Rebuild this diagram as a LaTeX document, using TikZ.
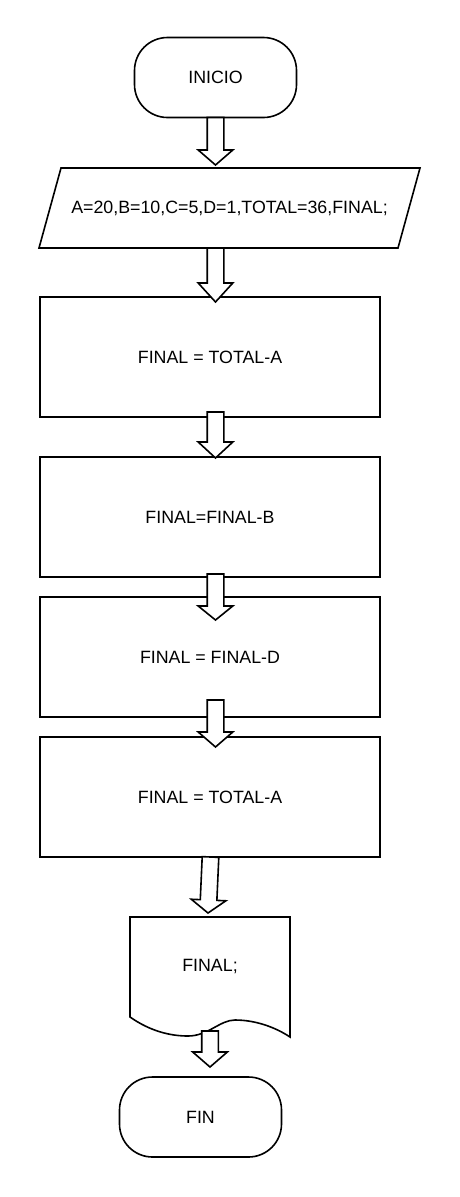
\documentclass[tikz,border=0pt]{standalone}
\usepackage{fontspec}
\setmainfont{Liberation Sans}
\usetikzlibrary{calc}
\tikzset{
  base/.style={line width=1.6pt, line join=miter},
  lbl/.style={font=\fontsize{17.8}{21}\selectfont, inner sep=0pt, outer sep=0pt},
  procbox/.style={lbl, base, draw, rectangle, minimum width=340pt, minimum height=120pt},
  termbox/.style={lbl, base, draw, rectangle, rounded corners=33pt, minimum width=162pt, minimum height=80pt},
  ghost/.style={lbl, rectangle},
  blockarrow/.style={base, draw=black, fill=white},
}
\newcommand\barrow[3]{%
  \coordinate (s) at (#1);
  \coordinate (t) at (#2);
  \coordinate (b) at ($(t)!#3!(s)$);
  \draw[blockarrow]
    ($(s)!8.3pt!90:(t)$) -- ($(b)!8.3pt!90:(t)$) -- ($(b)!17.3pt!90:(t)$) -- (t)
    -- ($(b)!17.3pt!-90:(t)$) -- ($(b)!8.3pt!-90:(t)$) -- ($(s)!8.3pt!-90:(t)$) -- cycle;
}
\begin{document}
\begin{tikzpicture}[x=1pt, y=-1pt]
\fill[white] (0,0) rectangle (460,1197);
\useasboundingbox (0,0) rectangle (460,1197);

% nodes
\node[termbox] (inicio) at (215.5,77.5) {INICIO};
\node[ghost, minimum width=359pt, minimum height=80pt] (datos) at (229.5,208) {A=20,B=10,C=5,D=1,TOTAL=36,FINAL;};
\draw[base] ([xshift=11pt]datos.north west) -- ([xshift=11pt]datos.north east)
  -- ([xshift=-11pt]datos.south east) -- ([xshift=-11pt]datos.south west) -- cycle;
\node[procbox] (p1) at (210,357) {FINAL = TOTAL-A};
\node[procbox] (p2) at (210,517) {FINAL=FINAL-B};
\node[procbox] (p3) at (210,657) {FINAL = FINAL-D};
\node[procbox] (p4) at (210,797) {FINAL = TOTAL-A};
\node[ghost, minimum width=160pt, minimum height=100pt] (doc) at (210,967) {FINAL;};
\draw[base] (doc.south west) -- (doc.north west) -- (doc.north east) -- ([yshift=-20pt]doc.south east)
  .. controls +(-15,-10) and +(20,0) .. ($(doc.south west)+(105,3)$)
  .. controls +(-15,0) and +(20,0) .. ($(doc.south west)+(58,19)$)
  .. controls +(-18,0) and +(20,14) .. (doc.south west) -- cycle;
\node[termbox] (fin) at (200.5,1117) {FIN};

% block-arrow connectors
\barrow{inicio.south}{$(inicio.south |- datos.north)+(0,-3)$}{15pt}
\barrow{inicio.south |- datos.south}{$(inicio.south |- p1.north)+(0,5)$}{19pt}
\barrow{$(inicio.south |- p1.south)+(0,-5)$}{$(inicio.south |- p2.north)+(0,1)$}{16pt}
\barrow{$(inicio.south |- p2.south)+(0,-3)$}{$(inicio.south |- p3.north)+(0,23)$}{14pt}
\barrow{$(inicio.south |- p3.south)+(0,-17)$}{$(inicio.south |- p4.north)+(0,10)$}{15pt}
\barrow{$(p4.south)+(0.5,0)$}{$(p4.south |- doc.north)+(-2,-4)$}{13pt}
\barrow{$(doc.south)+(0,14)$}{$(doc.south |- fin.north)+(0,-10)$}{15pt}
\end{tikzpicture}
\end{document}
